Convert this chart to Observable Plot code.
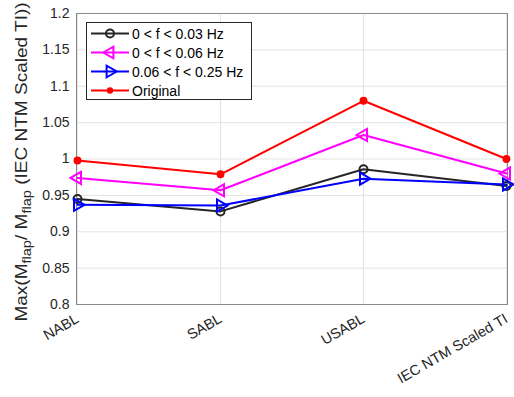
<!DOCTYPE html>
<html><head><meta charset="utf-8">
<script src="https://cdn.jsdelivr.net/npm/d3@7"></script>
<script src="https://cdn.jsdelivr.net/npm/@observablehq/plot@0.6"></script>
<style>body{margin:0;background:#fff}</style>
</head><body><div id="chart"></div>
<script>
const categories = ["NABL", "SABL", "USABL", "IEC NTM Scaled TI"];
const seriesNames = ["0 < f < 0.03 Hz", "0 < f < 0.06 Hz", "0.06 < f < 0.25 Hz", "Original"];
const f003 = [0.945, 0.928, 0.986, 0.963];
const f006 = [0.974, 0.957, 1.033, 0.980];
const f025 = [0.937, 0.936, 0.973, 0.965];
const original = [0.998, 0.979, 1.080, 1.000];
const yTicks = [0.8, 0.85, 0.9, 0.95, 1, 1.05, 1.1, 1.15, 1.2];
const colors = ["#262626", "#ff00ff", "#0000ff", "#ff0000"];

const allSeries = [f003, f006, f025, original];
const data = [];
allSeries.forEach((vals, si) => vals.forEach((v, i) => data.push({series: seriesNames[si], cat: categories[i], value: v, si})));
const bySeries = si => data.filter(d => d.si === si);

const fmt = d => String(+d.toFixed(2));
const FONT = "'Liberation Sans', Arial, Helvetica, sans-serif";

const chart = Plot.plot({
  width: 514, height: 397,
  marginLeft: 76, marginRight: 7, marginTop: 13, marginBottom: 93,
  style: {fontFamily: FONT, fontSize: "14px", background: "white", color: "#262626"},
  x: {type: "point", domain: categories, padding: 0, label: null},
  y: {domain: [0.8, 1.2], label: null},
  marks: [
    Plot.gridX(categories, {stroke: "#e3e3e3", strokeOpacity: 1}),
    Plot.gridY(yTicks, {stroke: "#e3e3e3", strokeOpacity: 1}),
    Plot.frame({stroke: "#8a8a8a"}),
    Plot.axisY(yTicks, {tickSize: 0, tickPadding: 7, tickFormat: fmt, fontSize: 14}),
    Plot.axisX(categories, {tickSize: 0, tickRotate: -30, tickPadding: 13, fontSize: 14.5}),
    Plot.line(bySeries(0), {x: "cat", y: "value", stroke: colors[0], strokeWidth: 2}),
    Plot.line(bySeries(1), {x: "cat", y: "value", stroke: colors[1], strokeWidth: 2}),
    Plot.line(bySeries(2), {x: "cat", y: "value", stroke: colors[2], strokeWidth: 2}),
    Plot.line(bySeries(3), {x: "cat", y: "value", stroke: colors[3], strokeWidth: 2}),
    Plot.dot(bySeries(0), {x: "cat", y: "value", symbol: "circle", r: 4, stroke: colors[0], strokeWidth: 2, fill: "none"}),
    Plot.dot(bySeries(1), {x: "cat", y: "value", symbol: "triangle", rotate: -90, r: 4.5, stroke: colors[1], strokeWidth: 2, fill: "none"}),
    Plot.dot(bySeries(2), {x: "cat", y: "value", symbol: "triangle", rotate: 90, r: 4.5, stroke: colors[2], strokeWidth: 2, fill: "none"}),
    Plot.dot(bySeries(3), {x: "cat", y: "value", symbol: "circle", r: 3.2, fill: colors[3], stroke: colors[3]})
  ]
});
document.getElementById("chart").appendChild(chart);

const svg = d3.select(chart);
// y-axis label with subscripts
const yl = svg.append("text")
  .attr("transform", "translate(27,162) rotate(-90) scale(1.12,1)")
  .attr("text-anchor", "middle")
  .attr("font-family", FONT)
  .attr("font-size", 17)
  .attr("fill", "#262626");
yl.append("tspan").text("Max(M");
yl.append("tspan").attr("font-size", 13).attr("dy", 4).text("flap");
yl.append("tspan").attr("dy", -4).text("/ M");
yl.append("tspan").attr("font-size", 13).attr("dy", 4).text("flap");
yl.append("tspan").attr("dy", -4).text(" (IEC NTM Scaled TI))");

// legend
const lg = svg.append("g").attr("font-family", FONT).attr("font-size", 14).attr("text-anchor", "start");
lg.append("rect").attr("x", 86.5).attr("y", 22.5).attr("width", 165).attr("height", 77).attr("fill", "white").attr("stroke", "#262626").attr("stroke-width", 1);
seriesNames.forEach((name, i) => {
  const y = 33.5 + i * 19;
  lg.append("line").attr("x1", 91).attr("x2", 129).attr("y1", y).attr("y2", y).attr("stroke", colors[i]).attr("stroke-width", 2);
  if (i === 0) lg.append("circle").attr("cx", 110).attr("cy", y).attr("r", 4).attr("fill", "none").attr("stroke", colors[i]).attr("stroke-width", 2);
  if (i === 1) lg.append("path").attr("d", d3.symbol(d3.symbolTriangle, 60)()).attr("transform", `translate(110,${y}) rotate(-90)`).attr("fill", "none").attr("stroke", colors[i]).attr("stroke-width", 2);
  if (i === 2) lg.append("path").attr("d", d3.symbol(d3.symbolTriangle, 60)()).attr("transform", `translate(110,${y}) rotate(90)`).attr("fill", "none").attr("stroke", colors[i]).attr("stroke-width", 2);
  if (i === 3) lg.append("circle").attr("cx", 110).attr("cy", y).attr("r", 3.2).attr("fill", colors[i]);
  lg.append("text").attr("x", 132).attr("y", y).attr("dy", "0.36em").attr("fill", "#000").text(name);
});
</script></body></html>
